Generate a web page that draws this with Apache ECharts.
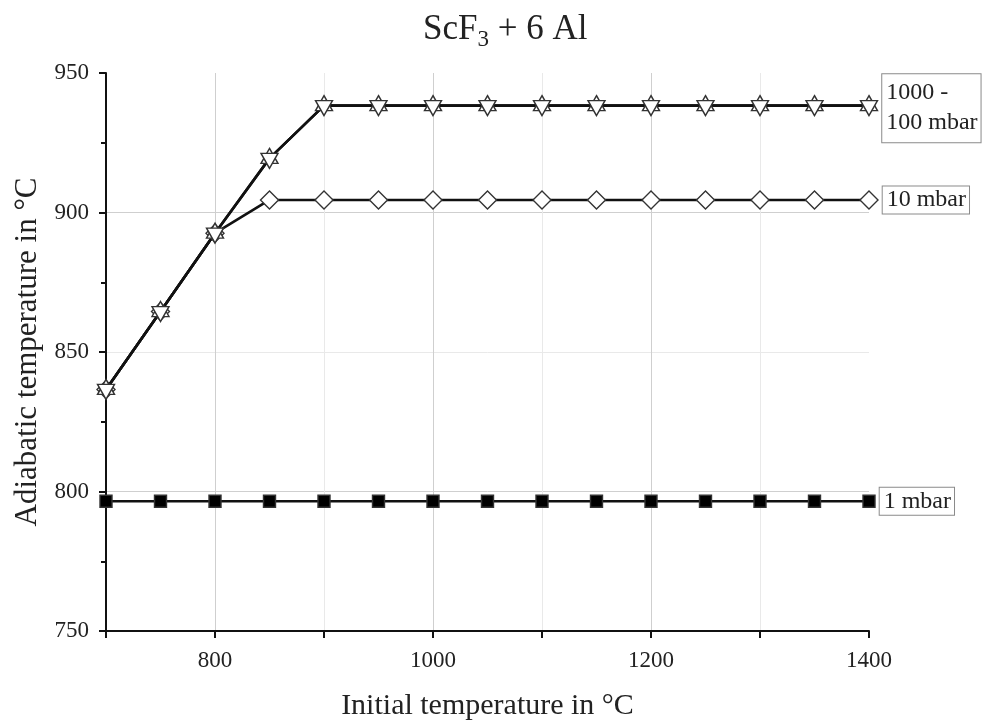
<!DOCTYPE html>
<html>
<head>
<meta charset="utf-8">
<script src="https://cdn.jsdelivr.net/npm/echarts@6/dist/echarts.min.js"></script>
<style>
  html, body { margin: 0; padding: 0; background: #fff; }
  #chart { width: 987px; height: 726px; }
</style>
</head>
<body>
<div id="chart"></div>
<script>
// initial temperature (°C)
var tempX = [700, 750, 800, 850, 900, 950, 1000, 1050, 1100, 1150, 1200, 1250, 1300, 1350, 1400];
// adiabatic temperature (°C) for each pressure
var adiab1000 = [836.6, 864.5, 892.6, 919.4, 938.3, 938.3, 938.3, 938.3, 938.3, 938.3, 938.3, 938.3, 938.3, 938.3, 938.3];
var adiab100 = [836.6, 864.5, 892.6, 919.4, 938.3, 938.3, 938.3, 938.3, 938.3, 938.3, 938.3, 938.3, 938.3, 938.3, 938.3];
var adiab10 = [836.6, 864.5, 892.6, 904.5, 904.5, 904.5, 904.5, 904.5, 904.5, 904.5, 904.5, 904.5, 904.5, 904.5, 904.5];
var adiab1 = [796.5, 796.5, 796.5, 796.5, 796.5, 796.5, 796.5, 796.5, 796.5, 796.5, 796.5, 796.5, 796.5, 796.5, 796.5];
var endLabels = ['1000 -\n100 mbar', '10 mbar', '1 mbar'];

(function () {
  var myChart = echarts.init(document.getElementById('chart'));
  var serif = 'Liberation Serif';

  // 最后一点带方框标签
  function pts(ys, label) {
    return ys.map(function (y, i) {
      var item = {value: [tempX[i], y]};
      if (label && i === ys.length - 1) {
        var twoLines = label.indexOf('\n') >= 0;
        item.label = {
          show: true,
          position: 'right',
          distance: 4,
          formatter: label,
          fontFamily: serif,
          fontSize: 24,
          lineHeight: twoLines ? 30 : 25,
          color: '#222',
          backgroundColor: '#fff',
          borderColor: '#8a8a8a',
          borderWidth: 1,
          padding: twoLines ? [5, 3, 3, 4] : [2, 3, 0, 4],
        };
      }
      return item;
    });
  }

  function line(name, ys, symbol, size, rotate, offset, label) {
    return {
      name: name,
      type: 'line',
      data: pts(ys, label),
      symbol: symbol,
      symbolSize: size,
      symbolRotate: rotate,
      symbolOffset: offset,
      showAllSymbol: true,
      lineStyle: {color: '#111', width: 2.6},
      itemStyle: {
        color: symbol === 'rect' ? '#000' : '#fff',
        borderColor: '#333',
        borderWidth: 1.4,
      },
      animation: false,
      z: 3,
    };
  }

  var option = {
    backgroundColor: '#fff',
    title: {
      text: '{a|ScF}{s|3}{a| + 6 Al}',
      left: 418,
      top: 4,
      textStyle: {
        rich: {
          a: {fontFamily: serif, fontSize: 35, fontWeight: 'normal', color: '#222'},
          s: {fontFamily: serif, fontSize: 23, fontWeight: 'normal', color: '#222', padding: [19, 0, 0, 0]},
        },
      },
    },
    grid: {left: 106, right: 118, top: 73, bottom: 94},
    xAxis: {
      type: 'value',
      min: 700,
      max: 1400,
      interval: 100,
      name: 'Initial temperature in °C',
      nameLocation: 'middle',
      nameGap: 60,
      nameTextStyle: {fontFamily: serif, fontSize: 30, color: '#222'},
      axisLine: {lineStyle: {color: '#111', width: 2}},
      axisTick: {length: 7, lineStyle: {color: '#111', width: 2}},
      axisLabel: {
        fontFamily: serif,
        fontSize: 23,
        color: '#222',
        margin: 18,
        formatter: function (v) { return v % 200 === 0 ? v : ''; },
      },
      splitLine: {
        show: true,
        showMaxLine: false,
        lineStyle: {color: ['#e9e9e9', '#cfcfcf'], width: 1},
      },
    },
    yAxis: {
      type: 'value',
      min: 750,
      max: 950,
      interval: 50,
      name: 'Adiabatic temperature in °C',
      nameLocation: 'middle',
      nameGap: 63,
      nameTextStyle: {fontFamily: serif, fontSize: 31, color: '#222'},
      axisLine: {show: true, lineStyle: {color: '#111', width: 2}},
      axisTick: {show: true, length: 7, lineStyle: {color: '#111', width: 2}},
      minorTick: {show: true, splitNumber: 2, length: 5, lineStyle: {color: '#111', width: 2}},
      axisLabel: {fontFamily: serif, fontSize: 23, color: '#222', margin: 17},
      splitLine: {
        show: true,
        showMaxLine: false,
        lineStyle: {color: ['#cfcfcf', '#cfcfcf', '#e9e9e9', '#cfcfcf'], width: 1},
      },
    },
    series: [
      line('1 mbar', adiab1, 'rect', 12, 0, [0, 0], endLabels[2]),
      line('10 mbar', adiab10, 'diamond', 18, 0, [0, 0], endLabels[1]),
      line('1000 mbar', adiab1000, 'triangle', [17, 15], 0, [0, -2.5], null),
      line('100 mbar', adiab100, 'triangle', [17, 15], 180, [0, 2.5], endLabels[0]),
    ],
  };
  myChart.setOption(option);
  window.addEventListener('resize', function () {
    myChart.resize();
  });
})();
</script>
</body>
</html>
